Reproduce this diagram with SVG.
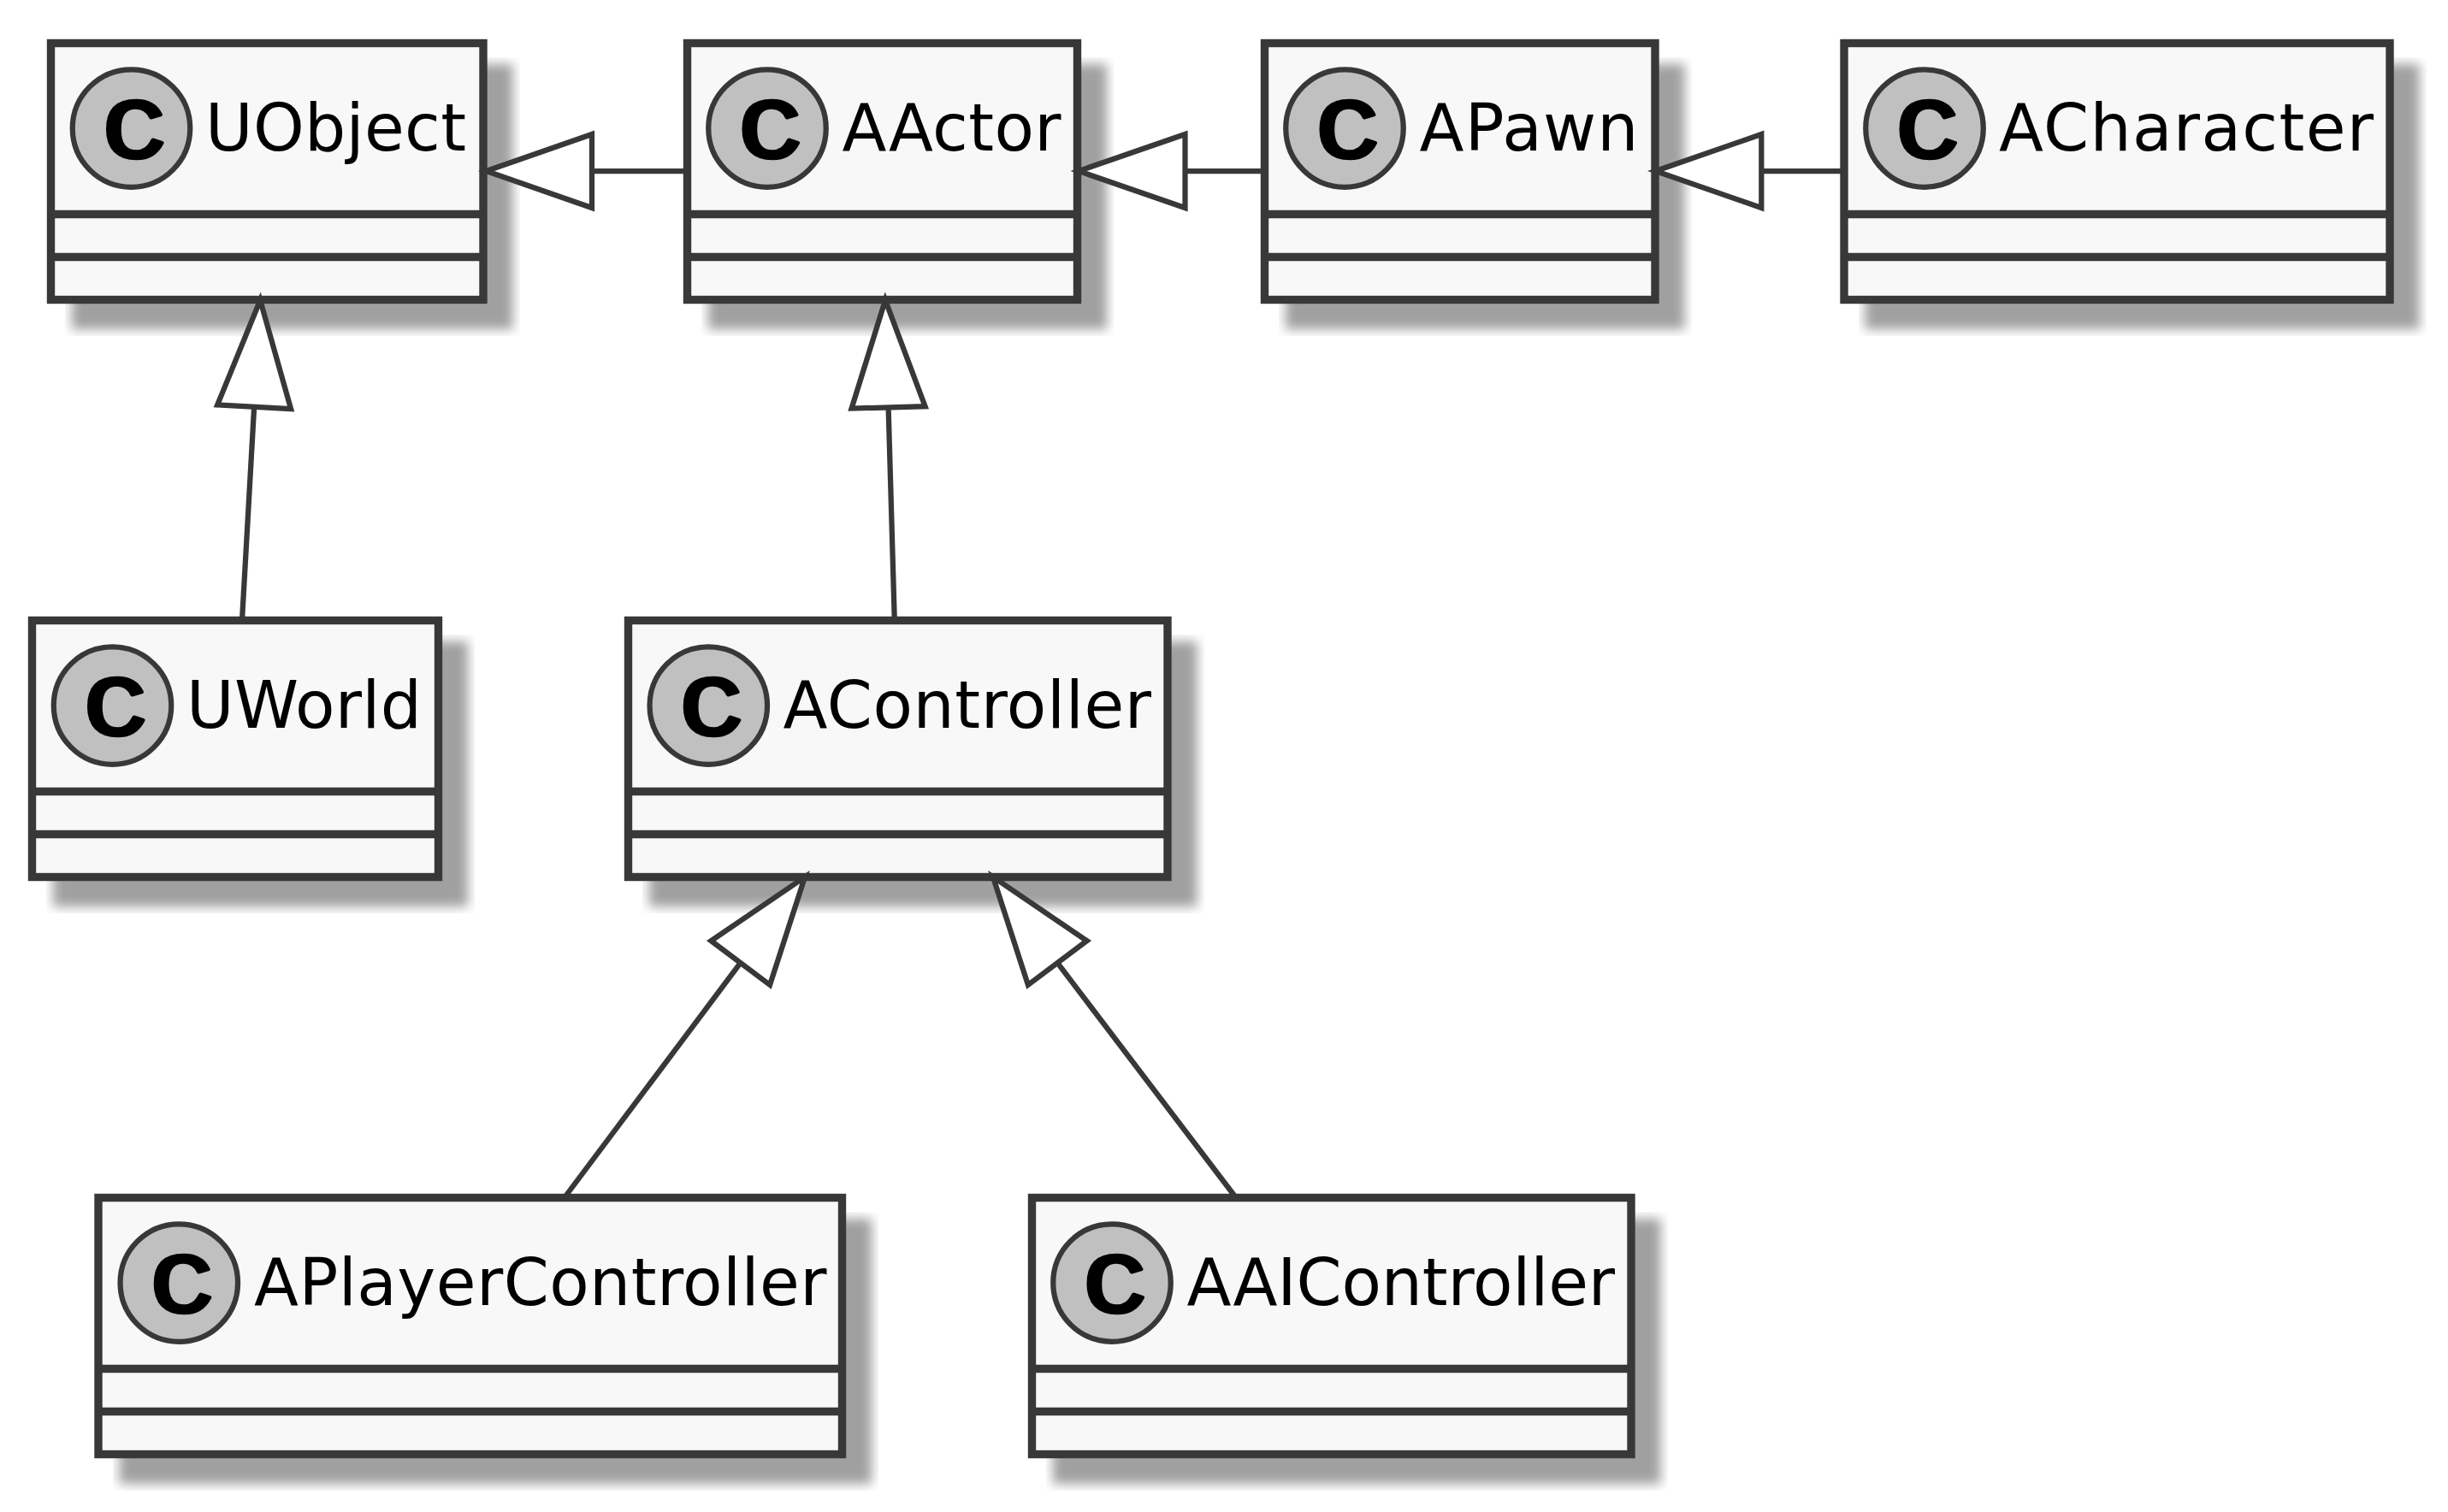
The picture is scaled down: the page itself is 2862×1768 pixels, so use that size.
<svg xmlns="http://www.w3.org/2000/svg" width="2862" height="1768" viewBox="0 0 2862 1768">
<style>
.sh{fill:#A0A0A0;stroke:none}
.box{fill:#F8F8F8;stroke:#383838;stroke-width:9.4}
.sep{stroke:#383838;stroke-width:9.4;fill:none}
.spot{fill:#C0C0C0;stroke:#383838;stroke-width:6.25}
.c{font-family:"Liberation Mono",monospace;font-size:98px;fill:#000;stroke:#000;stroke-width:4.5;stroke-linejoin:round;text-anchor:middle}
.t{font-family:"DejaVu Sans",sans-serif;font-size:76px;fill:#000}
.ln{stroke:#383838;stroke-width:6.25;fill:none}
.ah{fill:#FFF;stroke:#383838;stroke-width:6.25;stroke-miterlimit:10}
</style>
<defs>
<filter id="s1" filterUnits="userSpaceOnUse" x="76.8" y="67.8" width="530.6" height="324.7"><feGaussianBlur stdDeviation="6.5"/></filter>
<filter id="s2" filterUnits="userSpaceOnUse" x="820.8" y="67.8" width="481.1" height="324.7"><feGaussianBlur stdDeviation="6.5"/></filter>
<filter id="s3" filterUnits="userSpaceOnUse" x="1495.8" y="67.8" width="481.6" height="324.7"><feGaussianBlur stdDeviation="6.5"/></filter>
<filter id="s4" filterUnits="userSpaceOnUse" x="2173.3" y="67.8" width="663" height="324.7"><feGaussianBlur stdDeviation="6.5"/></filter>
<filter id="s5" filterUnits="userSpaceOnUse" x="54.8" y="742.8" width="500.1" height="324.7"><feGaussianBlur stdDeviation="6.5"/></filter>
<filter id="s6" filterUnits="userSpaceOnUse" x="751.8" y="742.8" width="655.6" height="324.7"><feGaussianBlur stdDeviation="6.5"/></filter>
<filter id="s7" filterUnits="userSpaceOnUse" x="132.3" y="1417.8" width="894.6" height="324.7"><feGaussianBlur stdDeviation="6.5"/></filter>
<filter id="s8" filterUnits="userSpaceOnUse" x="1223.8" y="1417.8" width="725.6" height="324.7"><feGaussianBlur stdDeviation="6.5"/></filter>
</defs>
<rect width="2862" height="1768" fill="#FFF"/>
<g id="UObject">
<rect class="sh" filter="url(#s1)" x="83.8" y="74.8" width="515.9" height="310.4"/>
<rect class="box" x="59.5" y="50.5" width="505.5" height="300"/>
<path class="sep" d="M59.5 250.5H565M59.5 300.5H565"/>
<circle class="spot" cx="153.5" cy="150" r="68.75"/>
<text class="c" x="157" y="183.5" textLength="74" lengthAdjust="spacingAndGlyphs">C</text>
<text class="t" x="240" y="176" textLength="305" lengthAdjust="spacing">UObject</text>
</g>
<g id="AActor">
<rect class="sh" filter="url(#s2)" x="827.8" y="74.8" width="466.4" height="310.4"/>
<rect class="box" x="803.5" y="50.5" width="456" height="300"/>
<path class="sep" d="M803.5 250.5H1259.5M803.5 300.5H1259.5"/>
<circle class="spot" cx="897" cy="150" r="68.75"/>
<text class="c" x="900.5" y="183.5" textLength="74" lengthAdjust="spacingAndGlyphs">C</text>
<text class="t" x="984.5" y="176" textLength="256" lengthAdjust="spacing">AActor</text>
</g>
<g id="APawn">
<rect class="sh" filter="url(#s3)" x="1502.8" y="74.8" width="466.9" height="310.4"/>
<rect class="box" x="1478.5" y="50.5" width="456.5" height="300"/>
<path class="sep" d="M1478.5 250.5H1935M1478.5 300.5H1935"/>
<circle class="spot" cx="1572" cy="150" r="68.75"/>
<text class="c" x="1575.5" y="183.5" textLength="74" lengthAdjust="spacingAndGlyphs">C</text>
<text class="t" x="1659.5" y="176" textLength="256" lengthAdjust="spacing">APawn</text>
</g>
<g id="ACharacter">
<rect class="sh" filter="url(#s4)" x="2180.3" y="74.8" width="648.4" height="310.4"/>
<rect class="box" x="2156" y="50.5" width="638" height="300"/>
<path class="sep" d="M2156 250.5H2794M2156 300.5H2794"/>
<circle class="spot" cx="2250" cy="150" r="68.75"/>
<text class="c" x="2253.5" y="183.5" textLength="74" lengthAdjust="spacingAndGlyphs">C</text>
<text class="t" x="2337" y="176" textLength="438" lengthAdjust="spacing">ACharacter</text>
</g>
<g id="UWorld">
<rect class="sh" filter="url(#s5)" x="61.8" y="749.8" width="485.4" height="310.4"/>
<rect class="box" x="37.5" y="725.5" width="475" height="300"/>
<path class="sep" d="M37.5 925.5H512.5M37.5 975.5H512.5"/>
<circle class="spot" cx="131.5" cy="825" r="68.75"/>
<text class="c" x="135" y="858.5" textLength="74" lengthAdjust="spacingAndGlyphs">C</text>
<text class="t" x="218" y="851" textLength="275" lengthAdjust="spacing">UWorld</text>
</g>
<g id="AController">
<rect class="sh" filter="url(#s6)" x="758.8" y="749.8" width="640.9" height="310.4"/>
<rect class="box" x="734.5" y="725.5" width="630.5" height="300"/>
<path class="sep" d="M734.5 925.5H1365M734.5 975.5H1365"/>
<circle class="spot" cx="828.3" cy="825" r="68.75"/>
<text class="c" x="831.8" y="858.5" textLength="74" lengthAdjust="spacingAndGlyphs">C</text>
<text class="t" x="915.5" y="851" textLength="430.5" lengthAdjust="spacing">AController</text>
</g>
<g id="APlayerController">
<rect class="sh" filter="url(#s7)" x="139.3" y="1424.8" width="879.9" height="310.4"/>
<rect class="box" x="115" y="1400.5" width="869.5" height="300"/>
<path class="sep" d="M115 1600.5H984.5M115 1650.5H984.5"/>
<circle class="spot" cx="209.3" cy="1500" r="68.75"/>
<text class="c" x="212.8" y="1533.5" textLength="74" lengthAdjust="spacingAndGlyphs">C</text>
<text class="t" x="297" y="1526" textLength="669.5" lengthAdjust="spacing">APlayerController</text>
</g>
<g id="AAIController">
<rect class="sh" filter="url(#s8)" x="1230.8" y="1424.8" width="710.9" height="310.4"/>
<rect class="box" x="1206.5" y="1400.5" width="700.5" height="300"/>
<path class="sep" d="M1206.5 1600.5H1907M1206.5 1650.5H1907"/>
<circle class="spot" cx="1300" cy="1500" r="68.75"/>
<text class="c" x="1303.5" y="1533.5" textLength="74" lengthAdjust="spacingAndGlyphs">C</text>
<text class="t" x="1387.5" y="1526" textLength="500.5" lengthAdjust="spacing">AAIController</text>
</g>
<g id="connectors">
<path class="ln" d="M692 200H803.5"/><polygon class="ah" points="568.5,200 692,157 692,243"/>
<path class="ln" d="M1385.5 200H1478.5"/><polygon class="ah" points="1261,200 1385.5,157 1385.5,243"/>
<path class="ln" d="M2059.3 200H2156"/><polygon class="ah" points="1935.5,200 2059.3,157 2059.3,243"/>
<path class="ln" d="M297.15 475.8L283 725.5"/><polygon class="ah" points="304.2,351 254.2,473.4 340.1,478.2"/>
<path class="ln" d="M1038.6 476.4L1045.8 725.5"/><polygon class="ah" points="1035,351 995.6,477.6 1081.6,475.2"/>
<path class="ln" d="M865.7 1125.9L659.8 1400.5"/><polygon class="ah" points="941,1025.5 831.3,1100.1 900.1,1151.7"/>
<path class="ln" d="M1236.3 1125.9L1445 1400.5"/><polygon class="ah" points="1161,1025.5 1270.7,1100.1 1201.9,1151.7"/>
</g>
</svg>
